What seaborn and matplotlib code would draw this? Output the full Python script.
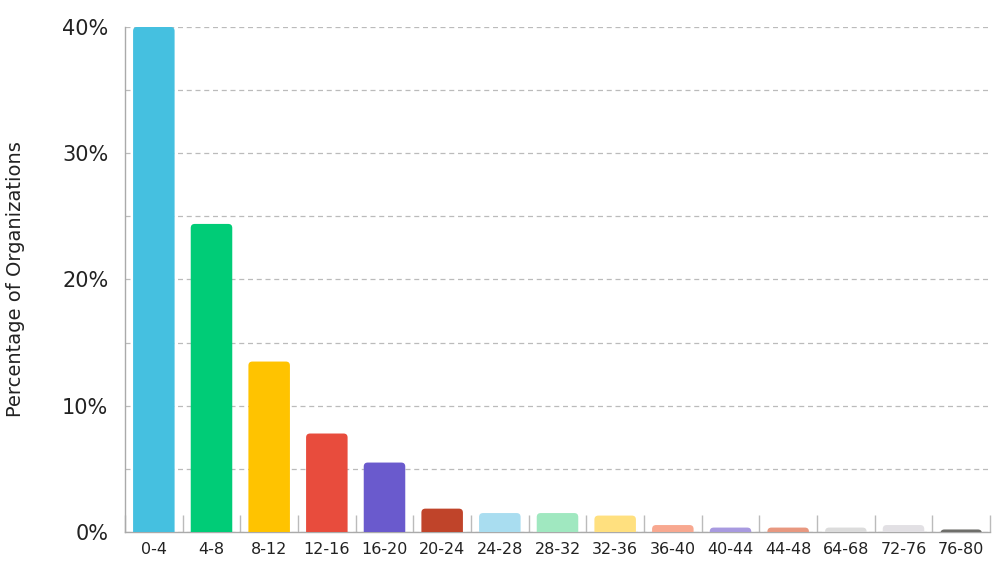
import matplotlib
matplotlib.use("Agg")
import matplotlib.pyplot as plt
import seaborn as sns
import pandas as pd
import numpy as np
from matplotlib.patches import FancyBboxPatch
from matplotlib.ticker import FixedLocator, FuncFormatter

categories = ["0-4", "4-8", "8-12", "12-16", "16-20", "20-24", "24-28", "28-32",
              "32-36", "36-40", "40-44", "44-48", "64-68", "72-76", "76-80"]
values = [40.0, 24.4, 13.5, 7.8, 5.5, 1.85, 1.5, 1.5, 1.3, 0.55, 0.35, 0.35, 0.35, 0.55, 0.2]
colors = ["#45C0E0", "#00CC77", "#FFC300", "#E84C3D", "#6A5ACD", "#C0442A", "#A9DDF0",
          "#A0E8C0", "#FFE07F", "#F8A890", "#A89AE0", "#E89880", "#DCDCDC", "#E2E0E4", "#6E6E6A"]

sns.set_theme(style="white")
plt.rcParams['font.family'] = ['DejaVu Sans']

df = pd.DataFrame({"cat": categories, "val": values})
fig = plt.figure(figsize=(10, 5.62), dpi=100)
ax = fig.add_axes([0.125, 0.0534, 0.865, 0.8986])

sns.barplot(data=df, x="cat", y="val", hue="cat", palette=colors, legend=False,
            width=0.72, ax=ax, saturation=1)

ax.set_xlim(-0.5, len(categories) - 0.5)
ax.set_ylim(0, 40)

# rounded tops
px_x = 865 / len(categories)
px_y = 505 / 40
aspect = px_x / px_y
r = 4.0 / px_x
for p, c in zip(list(ax.patches), colors):
    x, y, w, h = p.get_x(), p.get_y(), p.get_width(), p.get_height()
    p.remove()
    ext = r * aspect
    fb = FancyBboxPatch((x, y - ext), w, h + ext,
                        boxstyle=f"round,pad=0,rounding_size={r}",
                        mutation_aspect=aspect, facecolor=c, edgecolor="none",
                        clip_on=True, zorder=3)
    ax.add_patch(fb)

ax.yaxis.set_major_locator(FixedLocator([0, 10, 20, 30, 40]))
ax.yaxis.set_minor_locator(FixedLocator([5, 15, 25, 35]))
ax.yaxis.set_major_formatter(FuncFormatter(lambda v, _: f"{int(v)}%"))
ax.grid(True, axis="y", which="both", linestyle=(0, (4, 3)), color="#BBBBBB", linewidth=0.9)
ax.set_axisbelow(True)

ax.xaxis.set_minor_locator(FixedLocator(np.arange(-0.5, len(categories), 1.0)))
ax.tick_params(axis="x", which="major", length=0, labelsize=11.5, pad=7, labelcolor="#222222")
ax.tick_params(axis="x", which="minor", length=12, direction="in", color="#BBBBBB", width=1, bottom=True)
ax.tick_params(axis="y", which="major", length=0, labelsize=15, pad=12, labelcolor="#222222")
ax.tick_params(axis="y", which="minor", length=0)

for s in ["top", "right"]:
    ax.spines[s].set_visible(False)
for s in ["left", "bottom"]:
    ax.spines[s].set_color("#AAAAAA")
    ax.spines[s].set_linewidth(1.0)

ax.set_xlabel("")
ax.set_ylabel("Percentage of Organizations", fontsize=14, color="#222222")
ax.yaxis.set_label_coords(-0.116, 0.5)

fig.savefig("out.png", dpi=100)
